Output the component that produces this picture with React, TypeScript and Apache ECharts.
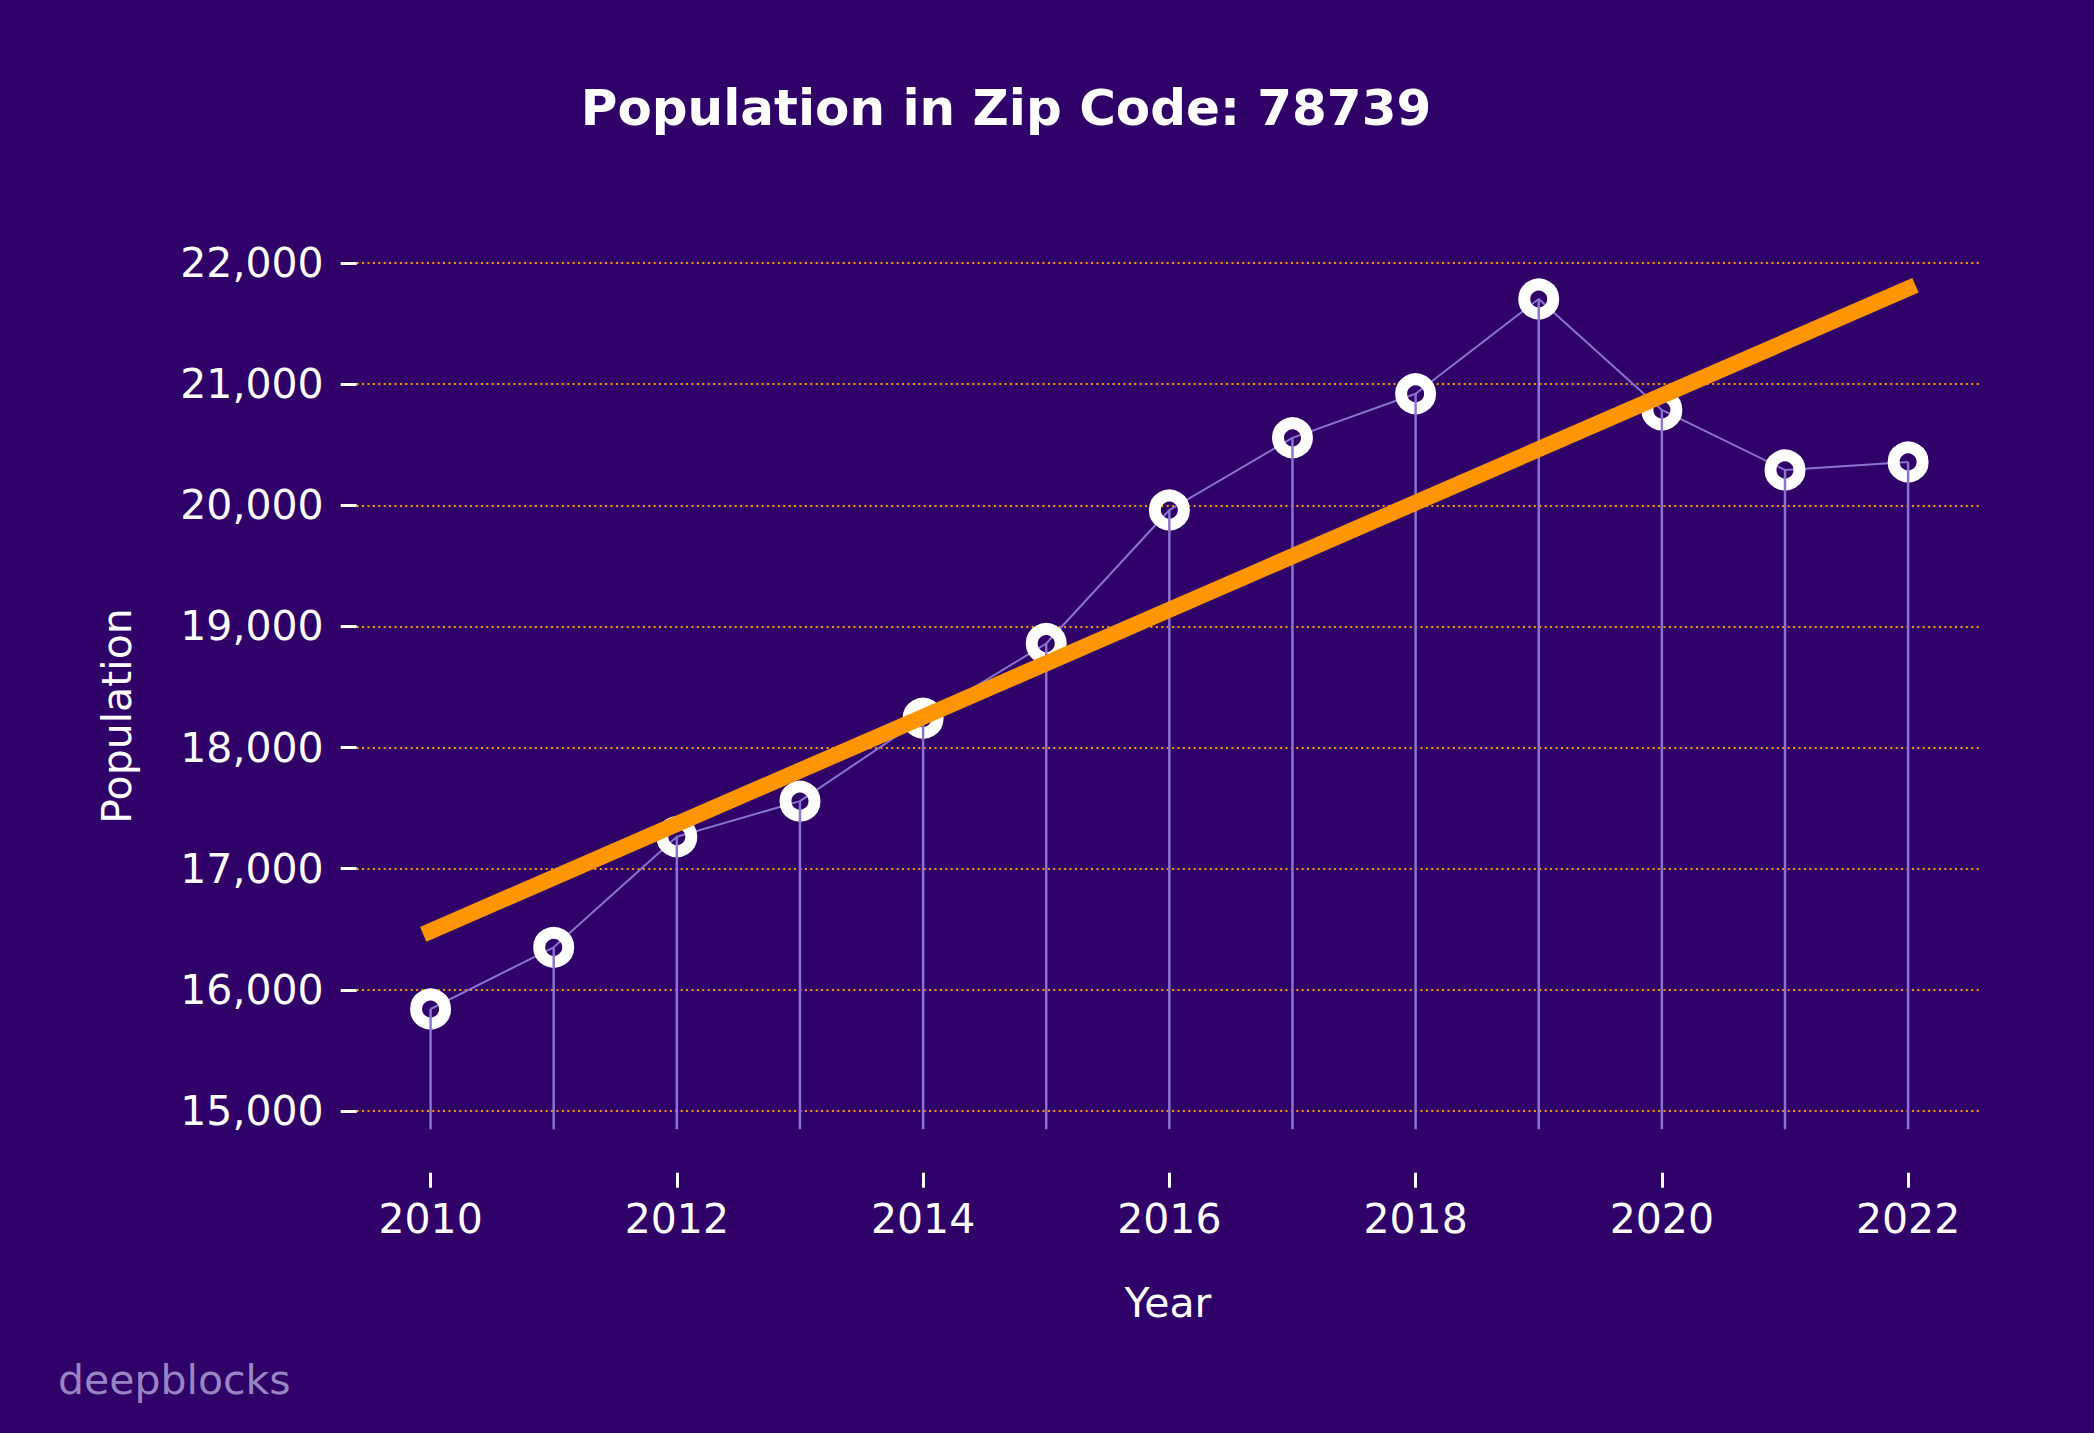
import React, { useEffect, useRef } from 'react';
import * as echarts from 'echarts';

const years = [2010, 2011, 2012, 2013, 2014, 2015, 2016, 2017, 2018, 2019, 2020, 2021, 2022];
const population = [15842, 16351, 17264, 17558, 18242, 18859, 19961, 20557, 20921, 21703, 20787, 20292, 20358];
const trendYears = [2010, 2022];
const trendValues = [16485, 21790];
const xTickLabels = [2010, 2012, 2014, 2016, 2018, 2020, 2022];
const yTickLabels = [15000, 16000, 17000, 18000, 19000, 20000, 21000, 22000];

const Y_MIN = 14849;
const Y_MAX = 22200;
const X_MIN = 2009.4;
const X_MAX = 2022.6;

const BG = '#2e0068';
const ORANGE = '#ff9500';
const LAVENDER = '#8a74d0';
const FONT = 'DejaVu Sans';

export default function App() {
  const ref = useRef<HTMLDivElement>(null);

  useEffect(() => {
    document.body.style.margin = '0';
    document.body.style.background = BG;
    if (!ref.current) return;
    const chart = echarts.init(ref.current, null, { renderer: 'svg' });
    const points = years.map((y, i) => [y, population[i]]);
    const trend = trendYears.map((y, i) => [y, trendValues[i]]);

    chart.setOption({
      animation: false,
      backgroundColor: BG,
      grid: { left: 356.7, right: 112, top: 238.8, bottom: 303.7, containLabel: false },
      xAxis: {
        type: 'value',
        min: X_MIN,
        max: X_MAX,
        offset: 43.4,
        axisLine: { show: false },
        axisTick: {
          show: true,
          customValues: xTickLabels,
          length: 15,
          lineStyle: { color: '#ffffff', width: 3 },
        },
        axisLabel: {
          customValues: xTickLabels,
          color: '#ffffff',
          fontSize: 41,
          fontFamily: FONT,
          margin: 26,
          formatter: (v: number) => String(v),
        },
        splitLine: { show: false },
      },
      yAxis: {
        type: 'value',
        min: Y_MIN,
        max: Y_MAX,
        axisLine: { show: false },
        axisTick: {
          show: true,
          customValues: yTickLabels,
          length: 16,
          lineStyle: { color: '#ffffff', width: 3 },
        },
        axisLabel: {
          customValues: yTickLabels,
          color: '#ffffff',
          fontSize: 41,
          fontFamily: FONT,
          margin: 33,
          formatter: (v: number) => v.toLocaleString('en-US'),
        },
        splitLine: {
          show: true,
          lineStyle: { color: ORANGE, width: 2, type: [2, 3.4] },
        },
      },
      series: [
        {
          type: 'line',
          data: points,
          showSymbol: false,
          silent: true,
          z: 2,
          lineStyle: { color: LAVENDER, width: 2 },
        },
        {
          type: 'scatter',
          data: points,
          symbol: 'circle',
          symbolSize: 29,
          silent: true,
          z: 3,
          itemStyle: {
            color: 'rgba(0,0,0,0)',
            borderColor: '#ffffff',
            borderWidth: 12,
            opacity: 1,
          },
        },
        {
          type: 'custom',
          data: points,
          silent: true,
          z: 4,
          renderItem: (params: any, api: any) => {
            const x = api.value(0);
            const y = api.value(1);
            const top = api.coord([x, y]);
            const bottom = api.coord([x, Y_MIN]);
            return {
              type: 'line',
              shape: { x1: top[0], y1: top[1], x2: bottom[0], y2: bottom[1] },
              style: { stroke: LAVENDER, lineWidth: 2.5 },
            };
          },
        },
        {
          type: 'line',
          data: trend,
          showSymbol: false,
          silent: true,
          z: 5,
          lineStyle: { color: ORANGE, width: 16, cap: 'square' },
        },
      ],
      graphic: [
        {
          type: 'text',
          x: 1006,
          y: 108,
          style: {
            text: 'Population in Zip Code: 78739',
            fill: '#ffffff',
            font: `bold 50px "${FONT}"`,
            align: 'center',
            verticalAlign: 'middle',
          },
        },
        {
          type: 'text',
          x: 117,
          y: 716,
          rotation: Math.PI / 2,
          style: {
            text: 'Population',
            fill: '#ffffff',
            font: `41px "${FONT}"`,
            align: 'center',
            verticalAlign: 'middle',
          },
        },
        {
          type: 'text',
          x: 1168,
          y: 1303,
          style: {
            text: 'Year',
            fill: '#ffffff',
            font: `41px "${FONT}"`,
            align: 'center',
            verticalAlign: 'middle',
          },
        },
        {
          type: 'text',
          x: 58,
          y: 1380,
          style: {
            text: 'deepblocks',
            fill: '#9a85c4',
            font: `41px "${FONT}"`,
            align: 'left',
            verticalAlign: 'middle',
          },
        },
      ],
    });

    return () => {
      chart.dispose();
    };
  }, []);

  return (
    <div
      ref={ref}
      style={{ position: 'absolute', left: 0, top: 0, width: 2094, height: 1433 }}
    />
  );
}
